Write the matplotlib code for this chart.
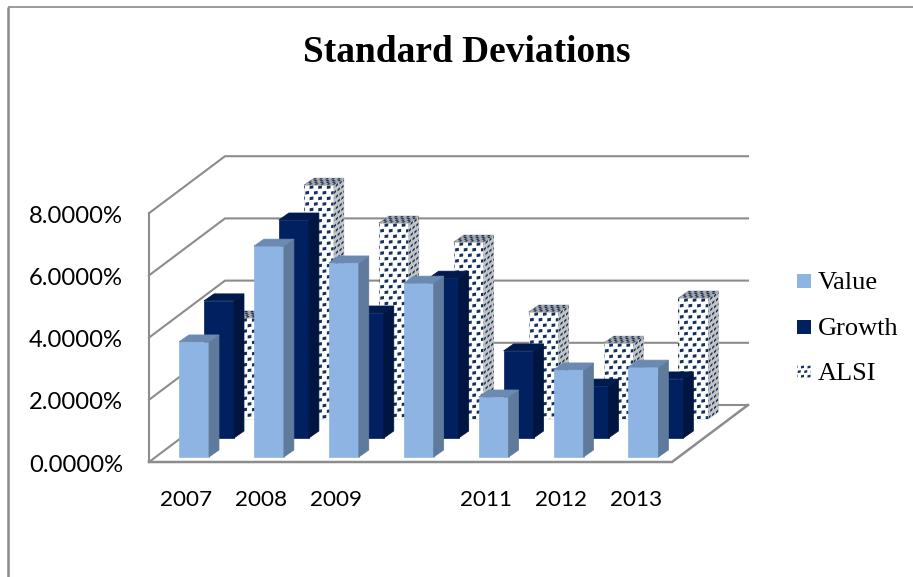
import matplotlib
matplotlib.use("Agg")
import matplotlib.pyplot as plt
import numpy as np
from matplotlib.patches import Polygon, Rectangle
from matplotlib.collections import PolyCollection

years = ['2007', '2008', '2009', '', '2011', '2012', '2013']
value = [3.70, 6.78, 6.24, 5.59, 1.93, 2.80, 2.89]
growth = [4.41, 7.01, 4.02, 5.14, 2.80, 1.67, 1.90]
alsi = [3.25, 7.52, 6.30, 5.69, 3.44, 2.44, 3.89]
y_ticks = [0, 2, 4, 6, 8]
y_labels = ['0.0000%', '2.0000%', '4.0000%', '6.0000%', '8.0000%']
series_names = ['Value', 'Growth', 'ALSI']

# oblique projection, all in pixels of the 913x577 picture
PX_PER_PCT = 31.1
X0, Y0 = 149, 462
FLOOR_W = 523
DEPTH_X, DEPTH_Y = 76, -57
CAT_STEP = 74.9
BAR_W, SIDE_X, SIDE_Y = 30, 10, -7
GRID = '#8c8c8c'
NAVY = '#14305c'

fig = plt.figure(figsize=(9.13, 5.77), dpi=100)
ax = fig.add_axes([0, 0, 1, 1])
ax.set_xlim(0, 913)
ax.set_ylim(577, 0)
ax.axis('off')


def face(p, eu, ev, color, edge=None):
    pts = [p, (p[0] + eu[0], p[1] + eu[1]),
           (p[0] + eu[0] + ev[0], p[1] + eu[1] + ev[1]), (p[0] + ev[0], p[1] + ev[1])]
    poly = Polygon(pts, closed=True, facecolor=color, edgecolor=edge or color, lw=0.5)
    ax.add_patch(poly)
    return poly


def dots(p, eu, ev, poly, step_u, step_v, size=3.4):
    # staggered dark squares, mapped onto a face
    lu = np.hypot(*eu)
    lv = np.hypot(*ev)
    ux, uy = eu[0] / lu, eu[1] / lu
    vx, vy = ev[0] / lv, ev[1] / lv
    squares = []
    rows = int(lv / step_v) + 2
    for r in range(rows):
        shift = step_u / 2 if r % 2 else 0
        for c in range(int(lu / step_u) + 2):
            u = c * step_u + shift - 1
            v = r * step_v + 2
            cx = p[0] + u * ux + v * vx
            cy = p[1] + u * uy + v * vy
            a = size / 2
            sq = []
            for du, dv in [(-a, -a + .6), (a, -a), (a, a - .6), (-a, a)]:
                sq.append((cx + du * ux + dv * vx, cy + du * uy + dv * vy))
            squares.append(sq)
    pc = PolyCollection(squares, facecolors=NAVY, edgecolors='none')
    ax.add_collection(pc)
    pc.set_clip_path(poly)


def bar(x, base, val, front, side, top, pattern=False):
    h = val * PX_PER_PCT
    tl = (x, base - h)
    tr = (x + BAR_W, base - h)
    if pattern:
        p = face(tl, (BAR_W, 0), (0, h), 'white', '#e4e4e4')
        dots(tl, (BAR_W, 0), (0, h), p, 8.6, 5.6, size=3.7)
        p = face(tr, (SIDE_X, SIDE_Y), (0, h), side)
        dots(tr, (SIDE_X, SIDE_Y), (0, h), p, 4.6, 5.6, size=2.7)
        p = face(tl, (BAR_W, 0), (SIDE_X, SIDE_Y), top)
        dots(tl, (BAR_W, 0), (SIDE_X, SIDE_Y), p, 6.0, 3.0, size=2.8)
    else:
        face(tl, (BAR_W, 0), (0, h), front)
        face(tr, (SIDE_X, SIDE_Y), (0, h), side)
        face(tl, (BAR_W, 0), (SIDE_X, SIDE_Y), top)


# outer chart border
ax.plot([8, 8], [577, 7], color='#8a8a8a', lw=1.8, solid_capstyle='butt', zorder=0)
ax.plot([8, 913], [7, 7], color='#8a8a8a', lw=1.2, solid_capstyle='butt', zorder=0)

# walls and floor stay behind the bars
for t in y_ticks:
    y = Y0 - t * PX_PER_PCT
    ax.plot([X0, X0 + DEPTH_X, X0 + FLOOR_W + DEPTH_X], [y, y + DEPTH_Y, y + DEPTH_Y],
            color=GRID, lw=1.5, solid_joinstyle='miter', zorder=0)
ax.plot([X0, X0], [Y0, Y0 - y_ticks[-1] * PX_PER_PCT], color=GRID, lw=1.5, zorder=0)
ax.plot([X0, X0 + FLOOR_W, X0 + FLOOR_W + DEPTH_X], [Y0, Y0, Y0 + DEPTH_Y], color=GRID, lw=1.8,
        solid_joinstyle='miter', zorder=0)

# back row first
for i, v in enumerate(alsi):
    bar(179 + 50 + i * CAT_STEP, 419, v, 'white', '#c4c4c4', '#a8a8a8', pattern=True)
for i, v in enumerate(growth):
    bar(179 + 25 + i * CAT_STEP, 438, v, '#002060', '#001540', '#001a4e')
for i, v in enumerate(value):
    bar(179 + i * CAT_STEP, 457, v, '#8db4e2', '#5f7a9a', '#6b8ab2')

for t, lab in zip(y_ticks, y_labels):
    ax.text(123, Y0 - t * PX_PER_PCT + 3, lab, ha='right', va='center', fontsize=17.1,
            family='Lato', color='black')
for i, lab in enumerate(years):
    ax.text(186.5 + i * CAT_STEP, 500, lab, ha='center', va='center', fontsize=16.2,
            family='Lato', color='black')

ax.text(466.5, 53, 'Standard Deviations', ha='center', va='center', fontsize=26.9,
        family='Liberation Serif', weight='bold', color='black')

# legend
for name, y, col in zip(series_names, [281, 327, 372], ['#8db4e2', '#002060', None]):
    if col is None:
        r = Rectangle((797, y - 7), 14, 14, facecolor='white', edgecolor='none')
        ax.add_patch(r)
        dots((797, y - 7), (14, 0), (0, 14), r, 6.5, 4.6, size=3.0)
    else:
        ax.add_patch(Rectangle((797, y - 7), 14, 14, facecolor=col, edgecolor='none'))
    ax.text(818, y + 2, name, ha='left', va='center', fontsize=19,
            family='Liberation Serif', color='black')

fig.savefig('out.png', dpi=100)
